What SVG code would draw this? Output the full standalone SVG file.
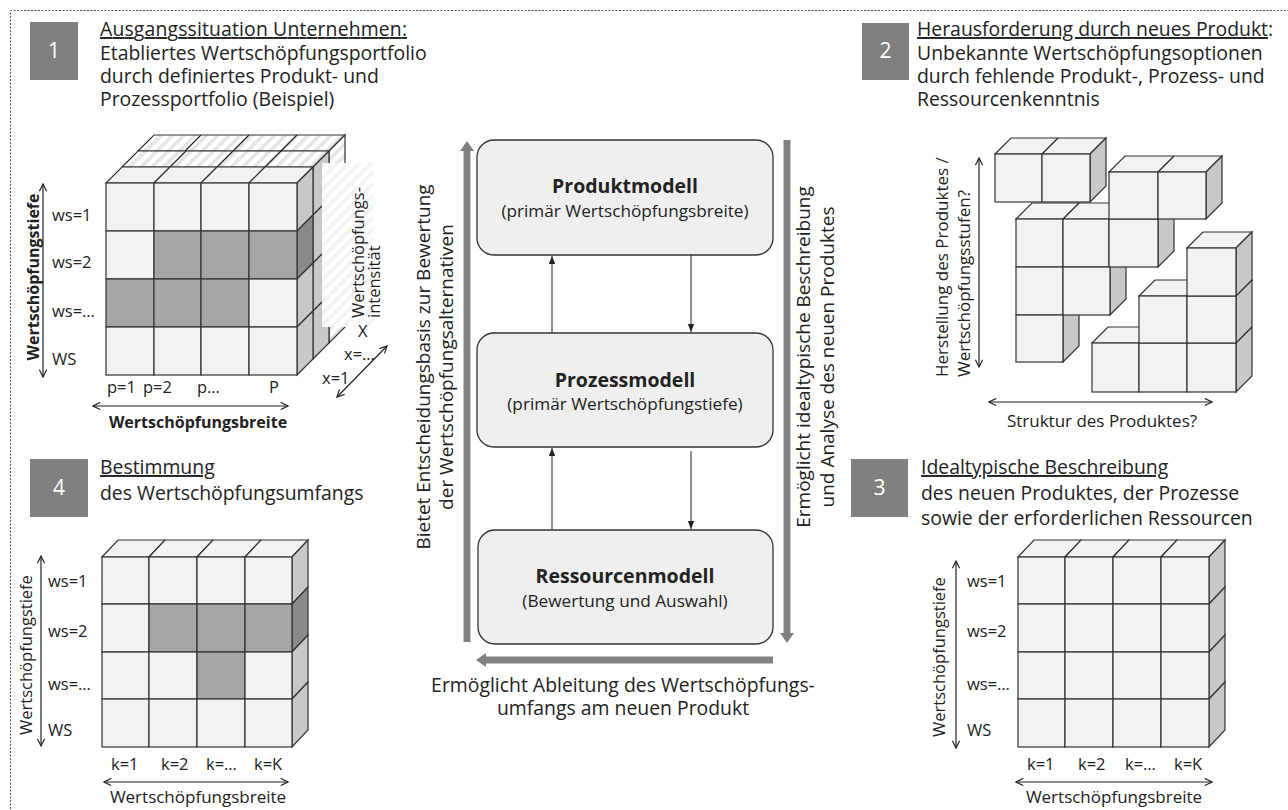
<svg xmlns="http://www.w3.org/2000/svg" width="1288" height="810" viewBox="0 0 1288 810">
  <defs>
    <style>
      text { font-family: "Open Sans", "Liberation Sans", sans-serif; fill: #222; }
      .t { font-size: 19.4px; }
      .c { font-size: 19px; }
      .s { font-size: 17px; }
      .lab { font-size: 16.5px; }
      .sub { font-size: 17.2px; }
      .b { font-weight: bold; }
      .num { font-size: 21px; fill: #fff; text-anchor: middle; }
      .numbox { fill: #808080; }
      .ul { text-decoration: underline; }
      .cell { fill: #f2f2f2; stroke: #333; stroke-width: 1.2; }
      .dark { fill: #a6a6a6; stroke: #333; stroke-width: 1.2; }
      .side { fill: #c8c8c8; stroke: #333; stroke-width: 1.2; }
      .sidedark { fill: #8a8a8a; stroke: #333; stroke-width: 1.2; }
      .hatch { fill: url(#stripes); stroke: #333; stroke-width: 1.2; }
      .thin { fill: none; stroke: #222; stroke-width: 1.2; }
      .link { fill: none; stroke: #222; stroke-width: 1; }
      .model { fill: #efefef; stroke: #333; stroke-width: 1.3; }
      .mid { text-anchor: middle; }
      .big { fill: #808080; }
    </style>
    <pattern id="stripes" patternUnits="userSpaceOnUse" width="8" height="8" patternTransform="rotate(45)">
      <rect width="8" height="8" fill="#ffffff"/>
      <rect width="3.5" height="8" fill="#e4e4e4"/>
    </pattern>
    <marker id="open" viewBox="0 0 10 10" refX="9" refY="5" markerWidth="9" markerHeight="9" orient="auto-start-reverse" markerUnits="userSpaceOnUse">
      <path d="M1,1 L9,5 L1,9" fill="none" stroke="#222" stroke-width="1.3"/>
    </marker>
    <marker id="tri" viewBox="0 0 10 10" refX="10" refY="5" markerWidth="8" markerHeight="8" orient="auto" markerUnits="userSpaceOnUse">
      <path d="M0,1 L10,5 L0,9 Z" fill="#222"/>
    </marker>
  </defs>

  <rect width="1288" height="810" fill="#ffffff"/>
  <!-- dashed frame, open to the right and bottom -->
  <path d="M10.5,830 L10.5,10.5 L1300,10.5" fill="none" stroke="#555" stroke-width="1" stroke-dasharray="2,1.5"/>

  <!-- ===== Step 1 ===== -->
  <g id="step1">
    <rect class="numbox" x="30" y="22" width="48" height="58"/>
    <text class="num" x="54" y="58">1</text>
    <text class="t" x="100" y="36" textLength="307" lengthAdjust="spacing"><tspan class="ul">Ausgangssituation Unternehmen:</tspan></text>
    <text class="t" x="100" y="60">Etabliertes Wertschöpfungsportfolio</text>
    <text class="t" x="100" y="83">durch definiertes Produkt- und</text>
    <text class="t" x="100" y="106">Prozessportfolio (Beispiel)</text>
  </g>

  <g id="cube1">
    <!-- back layer 3 -->
    <polygon class="hatch" points="138,151 329,151 345,135 154,135"/>
    <polygon class="hatch" points="329,151 345,135 345,327 329,343"/>
    <!-- layer 2 -->
    <polygon class="hatch" points="122,167 313,167 329,151 138,151"/>
    <path class="thin" d="M186,151 L170,167 M233,151 L217,167 M281,151 L265,167 M201,135 L185,151 M249,135 L233,151 M297,135 L281,151"/>
    <polygon class="side" points="313,167 329,151 329,343 313,359"/>
    <path class="thin" d="M313,215 L329,199 M313,263 L329,247 M313,311 L329,295"/>
    <!-- layer 1 top -->
    <polygon class="cell" points="106,183 154,183 170,167 122,167"/>
    <polygon class="cell" points="154,183 201,183 217,167 170,167"/>
    <polygon class="cell" points="201,183 249,183 265,167 217,167"/>
    <polygon class="cell" points="249,183 297,183 313,167 265,167"/>
    <!-- layer 1 right -->
    <polygon class="side" points="297,183 313,167 313,215 297,231"/>
    <polygon class="sidedark" points="297,231 313,215 313,263 297,279"/>
    <polygon class="side" points="297,279 313,263 313,311 297,327"/>
    <polygon class="side" points="297,327 313,311 313,359 297,375"/>
    <!-- front grid -->
    <rect class="cell" x="106" y="183" width="48" height="48"/>
    <rect class="cell" x="154" y="183" width="47" height="48"/>
    <rect class="cell" x="201" y="183" width="48" height="48"/>
    <rect class="cell" x="249" y="183" width="48" height="48"/>
    <rect class="cell" x="106" y="231" width="48" height="48"/>
    <rect class="dark" x="154" y="231" width="47" height="48"/>
    <rect class="dark" x="201" y="231" width="48" height="48"/>
    <rect class="dark" x="249" y="231" width="48" height="48"/>
    <rect class="dark" x="106" y="279" width="48" height="48"/>
    <rect class="dark" x="154" y="279" width="47" height="48"/>
    <rect class="dark" x="201" y="279" width="48" height="48"/>
    <rect class="cell" x="249" y="279" width="48" height="48"/>
    <rect class="cell" x="106" y="327" width="48" height="48"/>
    <rect class="cell" x="154" y="327" width="47" height="48"/>
    <rect class="cell" x="201" y="327" width="48" height="48"/>
    <rect class="cell" x="249" y="327" width="48" height="48"/>
    <!-- intensity label panel -->
    <rect x="322" y="163" width="51" height="164" fill="#ffffff"/>
    <rect x="322" y="163" width="51" height="164" fill="url(#stripes)" opacity="0.45"/>
    <text class="lab" transform="translate(364,318) rotate(-90)">Wertschöpfungs-</text>
    <text class="lab" transform="translate(380,318) rotate(-90)">intensität</text>
    <!-- axes -->
    <line class="thin" x1="43" y1="184" x2="43" y2="377" marker-start="url(#open)" marker-end="url(#open)"/>
    <text class="b mid" font-size="16" transform="translate(39,277) rotate(-90)">Wertschöpfungstiefe</text>
    <text class="lab" x="52" y="221">ws=1</text>
    <text class="lab" x="52" y="268">ws=2</text>
    <text class="lab" x="52" y="317">ws=…</text>
    <text class="lab" x="52" y="365">WS</text>
    <text class="lab" x="107" y="393">p=1</text>
    <text class="lab" x="143" y="393">p=2</text>
    <text class="lab" x="197" y="393">p…</text>
    <text class="lab" x="269" y="393">P</text>
    <line class="thin" x1="93" y1="406" x2="288" y2="406" marker-start="url(#open)" marker-end="url(#open)"/>
    <text class="b mid" font-size="16" x="198" y="428">Wertschöpfungsbreite</text>
    <line class="thin" x1="337" y1="397" x2="387" y2="346" marker-start="url(#open)" marker-end="url(#open)"/>
    <text class="lab" x="358" y="337">X</text>
    <text class="lab" x="344" y="360">x=…</text>
    <text class="lab" x="322" y="384">x=1</text>
  </g>

  <!-- ===== Step 2 ===== -->
  <g id="step2">
    <rect class="numbox" x="862" y="23" width="47" height="57"/>
    <text class="num" x="885.5" y="58">2</text>
    <text class="t" x="917" y="36"><tspan class="ul">Herausforderung durch neues Produkt</tspan>:</text>
    <text class="t" x="917" y="60">Unbekannte Wertschöpfungsoptionen</text>
    <text class="t" x="917" y="83">durch fehlende Produkt-, Prozess- und</text>
    <text class="t" x="917" y="106">Ressourcenkenntnis</text>
  </g>

  <g id="blocks2">
    <!-- group A -->
    <polygon class="cell" points="995,154 1090,154 1106,138 1011,138"/>
    <line class="thin" x1="1042" y1="154" x2="1058" y2="138"/>
    <polygon class="side" points="1090,154 1106,138 1106,186 1090,202"/>
    <rect class="cell" x="995" y="154" width="47" height="48"/>
    <rect class="cell" x="1042" y="154" width="48" height="48"/>
    <!-- group B -->
    <polygon class="cell" points="1016,219 1109,219 1125,203 1032,203"/>
    <line class="thin" x1="1063" y1="219" x2="1079" y2="203"/>
    <polygon class="side" points="1110,267 1126,251 1126,299 1110,315"/>
    <polygon class="side" points="1063,315 1079,299 1079,346 1063,362"/>
    <rect class="cell" x="1016" y="219" width="47" height="48"/>
    <rect class="cell" x="1063" y="219" width="46" height="48"/>
    <rect class="cell" x="1016" y="267" width="47" height="48"/>
    <rect class="cell" x="1063" y="267" width="47" height="48"/>
    <rect class="cell" x="1016" y="315" width="47" height="47"/>
    <!-- group C -->
    <polygon class="side" points="1158,219 1174,203 1174,251 1158,267"/>
    <rect class="cell" x="1109" y="219" width="49" height="48"/>
    <polygon class="cell" points="1109,172 1206,172 1222,156 1125,156"/>
    <line class="thin" x1="1158" y1="172" x2="1174" y2="156"/>
    <polygon class="side" points="1206,172 1222,156 1222,203 1206,219"/>
    <rect class="cell" x="1109" y="172" width="49" height="47"/>
    <rect class="cell" x="1158" y="172" width="48" height="47"/>
    <!-- group D -->
    <polygon class="cell" points="1092,343 1139,343 1155,327 1108,327"/>
    <polygon class="cell" points="1139,296 1236,296 1252,280 1155,280"/>
    <line class="thin" x1="1187" y1="296" x2="1203" y2="280"/>
    <polygon class="cell" points="1187,248 1236,248 1252,232 1203,232"/>
    <polygon class="side" points="1236,248 1252,232 1252,376 1236,392"/>
    <path class="thin" d="M1236,296 L1252,280 M1236,343 L1252,327"/>
    <rect class="cell" x="1092" y="343" width="47" height="49"/>
    <rect class="cell" x="1139" y="343" width="48" height="49"/>
    <rect class="cell" x="1187" y="343" width="49" height="49"/>
    <rect class="cell" x="1139" y="296" width="48" height="47"/>
    <rect class="cell" x="1187" y="296" width="49" height="47"/>
    <rect class="cell" x="1187" y="248" width="49" height="48"/>
    <!-- axes -->
    <line class="thin" x1="979" y1="158" x2="979" y2="367" marker-start="url(#open)" marker-end="url(#open)"/>
    <text class="s" transform="translate(948,377) rotate(-90)">Herstellung des Produktes /</text>
    <text class="s" transform="translate(970,377) rotate(-90)">Wertschöpfungsstufen?</text>
    <line class="thin" x1="989" y1="402" x2="1212" y2="402" marker-start="url(#open)" marker-end="url(#open)"/>
    <text class="s mid" x="1102" y="427">Struktur des Produktes?</text>
  </g>

  <!-- ===== Step 4 ===== -->
  <g id="step4">
    <rect class="numbox" x="30" y="459" width="58" height="58"/>
    <text class="num" x="59" y="495">4</text>
    <text class="t" x="100" y="474"><tspan class="ul">Bestimmung</tspan></text>
    <text class="t" x="100" y="500">des Wertschöpfungsumfangs</text>
  </g>

  <g id="cube4">
    <polygon class="cell" points="102,557 149,557 165,540 118,540"/>
    <polygon class="cell" points="149,557 197,557 213,540 165,540"/>
    <polygon class="cell" points="197,557 245,557 261,540 213,540"/>
    <polygon class="cell" points="245,557 292,557 308,540 261,540"/>
    <polygon class="side" points="292,557 308,540 308,587 292,604"/>
    <polygon class="sidedark" points="292,604 308,587 308,635 292,652"/>
    <polygon class="side" points="292,652 308,635 308,682 292,699"/>
    <polygon class="side" points="292,699 308,682 308,730 292,747"/>
    <rect class="cell" x="102" y="557" width="47" height="47"/>
    <rect class="cell" x="149" y="557" width="48" height="47"/>
    <rect class="cell" x="197" y="557" width="48" height="47"/>
    <rect class="cell" x="245" y="557" width="47" height="47"/>
    <rect class="cell" x="102" y="604" width="47" height="48"/>
    <rect class="dark" x="149" y="604" width="48" height="48"/>
    <rect class="dark" x="197" y="604" width="48" height="48"/>
    <rect class="dark" x="245" y="604" width="47" height="48"/>
    <rect class="cell" x="102" y="652" width="47" height="47"/>
    <rect class="cell" x="149" y="652" width="48" height="47"/>
    <rect class="dark" x="197" y="652" width="48" height="47"/>
    <rect class="cell" x="245" y="652" width="47" height="47"/>
    <rect class="cell" x="102" y="699" width="47" height="48"/>
    <rect class="cell" x="149" y="699" width="48" height="48"/>
    <rect class="cell" x="197" y="699" width="48" height="48"/>
    <rect class="cell" x="245" y="699" width="47" height="48"/>
    <line class="thin" x1="41" y1="556" x2="41" y2="746" marker-start="url(#open)" marker-end="url(#open)"/>
    <text class="lab mid" transform="translate(32,655) rotate(-90)">Wertschöpfungstiefe</text>
    <text class="lab" x="48" y="587">ws=1</text>
    <text class="lab" x="48" y="637">ws=2</text>
    <text class="lab" x="48" y="690">ws=…</text>
    <text class="lab" x="48" y="736">WS</text>
    <text class="lab" x="111" y="770">k=1</text>
    <text class="lab" x="161" y="770">k=2</text>
    <text class="lab" x="206" y="770">k=…</text>
    <text class="lab" x="254" y="770">k=K</text>
    <line class="thin" x1="104" y1="782" x2="288" y2="782" marker-start="url(#open)" marker-end="url(#open)"/>
    <text class="s mid" x="198" y="803">Wertschöpfungsbreite</text>
  </g>

  <!-- ===== Step 3 ===== -->
  <g id="step3">
    <rect class="numbox" x="851" y="459" width="57" height="58"/>
    <text class="num" x="879.5" y="495">3</text>
    <text class="t" x="921" y="474"><tspan class="ul">Idealtypische Beschreibung</tspan></text>
    <text class="t" x="921" y="500">des neuen Produktes, der Prozesse</text>
    <text class="t" x="921" y="525">sowie der erforderlichen Ressourcen</text>
  </g>

  <g id="cube3">
    <polygon class="cell" points="1018,557 1065,557 1081,540 1034,540"/>
    <polygon class="cell" points="1065,557 1113,557 1129,540 1081,540"/>
    <polygon class="cell" points="1113,557 1161,557 1177,540 1129,540"/>
    <polygon class="cell" points="1161,557 1209,557 1225,540 1177,540"/>
    <polygon class="side" points="1209,557 1225,540 1225,587 1209,604"/>
    <polygon class="side" points="1209,604 1225,587 1225,635 1209,652"/>
    <polygon class="side" points="1209,652 1225,635 1225,682 1209,699"/>
    <polygon class="side" points="1209,699 1225,682 1225,730 1209,747"/>
    <rect class="cell" x="1018" y="557" width="47" height="47"/>
    <rect class="cell" x="1065" y="557" width="48" height="47"/>
    <rect class="cell" x="1113" y="557" width="48" height="47"/>
    <rect class="cell" x="1161" y="557" width="48" height="47"/>
    <rect class="cell" x="1018" y="604" width="47" height="48"/>
    <rect class="cell" x="1065" y="604" width="48" height="48"/>
    <rect class="cell" x="1113" y="604" width="48" height="48"/>
    <rect class="cell" x="1161" y="604" width="48" height="48"/>
    <rect class="cell" x="1018" y="652" width="47" height="47"/>
    <rect class="cell" x="1065" y="652" width="48" height="47"/>
    <rect class="cell" x="1113" y="652" width="48" height="47"/>
    <rect class="cell" x="1161" y="652" width="48" height="47"/>
    <rect class="cell" x="1018" y="699" width="47" height="48"/>
    <rect class="cell" x="1065" y="699" width="48" height="48"/>
    <rect class="cell" x="1113" y="699" width="48" height="48"/>
    <rect class="cell" x="1161" y="699" width="48" height="48"/>
    <line class="thin" x1="956" y1="561" x2="956" y2="748" marker-start="url(#open)" marker-end="url(#open)"/>
    <text class="lab mid" transform="translate(945,657) rotate(-90)">Wertschöpfungstiefe</text>
    <text class="lab" x="967" y="587">ws=1</text>
    <text class="lab" x="967" y="637">ws=2</text>
    <text class="lab" x="967" y="690">ws=…</text>
    <text class="lab" x="967" y="736">WS</text>
    <text class="lab" x="1027" y="770">k=1</text>
    <text class="lab" x="1078" y="770">k=2</text>
    <text class="lab" x="1125" y="770">k=…</text>
    <text class="lab" x="1174" y="770">k=K</text>
    <line class="thin" x1="1016" y1="782" x2="1212" y2="782" marker-start="url(#open)" marker-end="url(#open)"/>
    <text class="s mid" x="1114" y="803">Wertschöpfungsbreite</text>
  </g>

  <!-- ===== central models ===== -->
  <g id="produktmodell">
    <rect class="model" x="477" y="140" width="296" height="115" rx="17"/>
    <text class="b mid" font-size="19.5" x="625" y="193">Produktmodell</text>
    <text class="sub mid" x="625" y="217">(primär Wertschöpfungsbreite)</text>
  </g>
  <g id="prozessmodell">
    <rect class="model" x="477" y="333" width="296" height="114" rx="17"/>
    <text class="b mid" font-size="19.5" x="625" y="387">Prozessmodell</text>
    <text class="sub mid" x="625" y="410">(primär Wertschöpfungstiefe)</text>
  </g>
  <g id="ressourcenmodell">
    <rect class="model" x="478" y="530" width="295" height="114" rx="17"/>
    <text class="b mid" font-size="19.5" x="625" y="583">Ressourcenmodell</text>
    <text class="sub mid" x="625" y="607">(Bewertung und Auswahl)</text>
  </g>

  <g id="connectors">
    <line class="link" x1="552" y1="333" x2="552" y2="256" marker-end="url(#tri)"/>
    <line class="link" x1="691" y1="255" x2="691" y2="332" marker-end="url(#tri)"/>
    <line class="link" x1="552" y1="530" x2="552" y2="448" marker-end="url(#tri)"/>
    <line class="link" x1="691" y1="451" x2="691" y2="529" marker-end="url(#tri)"/>
    <!-- broad feedback arrows -->
    <rect class="big" x="463.5" y="150" width="7" height="492"/>
    <polygon class="big" points="460,151 467,141 474,151"/>
    <rect class="big" x="783.5" y="140" width="7" height="494"/>
    <polygon class="big" points="780,633 787,643 794,633"/>
    <rect class="big" x="485" y="656.5" width="288" height="7"/>
    <polygon class="big" points="486,653 476,660 486,667"/>
  </g>

  <g id="labels">
    <text class="c mid" transform="translate(430,367) rotate(-90)">Bietet Entscheidungsbasis zur Bewertung</text>
    <text class="c mid" transform="translate(453,367) rotate(-90)">der Wertschöpfungsalternativen</text>
    <text class="c mid" transform="translate(810,357) rotate(-90)">Ermöglicht idealtypische Beschreibung</text>
    <text class="c mid" transform="translate(834,357) rotate(-90)">und Analyse des neuen Produktes</text>
    <text class="t mid" x="623" y="692">Ermöglicht Ableitung des Wertschöpfungs-</text>
    <text class="t mid" x="623" y="715">umfangs am neuen Produkt</text>
  </g>
</svg>
